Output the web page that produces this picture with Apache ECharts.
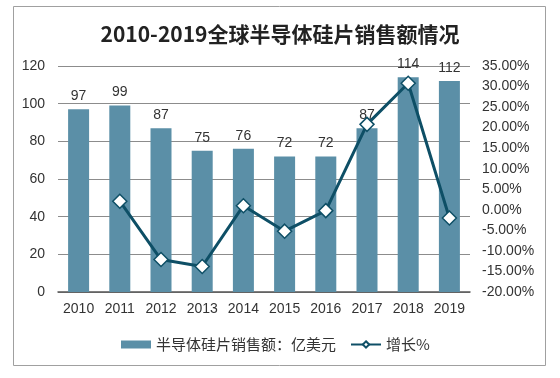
<!DOCTYPE html>
<html><head><meta charset="utf-8">
<script src="https://cdn.jsdelivr.net/npm/echarts@6/dist/echarts.min.js"></script>
<style>html,body{margin:0;padding:0;background:#fff}#c{width:560px;height:378px}</style>
</head><body><div id="c"></div>
<script>
const years = ['2010','2011','2012','2013','2014','2015','2016','2017','2018','2019'];
const sales = [97, 99, 87, 75, 76, 72, 72, 87, 114, 112];
const growth = [null, 2.1, -12.1, -13.8, 1.0, -5.2, -0.2, 20.8, 30.8, -2.0];
const leftTicks = [0, 20, 40, 60, 80, 100, 120];
const rightTicks = [-20, 35, 5];
const font = 'Liberation Sans, Arial, sans-serif';
const chart = echarts.init(document.getElementById('c'));
chart.setOption({
  backgroundColor: '#ffffff',
  animation: false,
  graphic: [{type:'rect', shape:{x:13.5,y:6.5,width:532,height:359}, style:{fill:'none', stroke:'#a0a0a0', lineWidth:1}, z:-1}],
  title: {text:'2010-2019全球半导体硅片销售额情况', left:'center', top:19,
    textStyle:{fontFamily:'Noto Sans CJK SC', fontWeight:'bold', fontSize:21, color:'#222'}},
  legend: {left:116, top:332, itemGap:14, textStyle:{fontFamily:'Noto Sans CJK SC', fontSize:15, color:'#333'},
    data:[{name:'半导体硅片销售额：亿美元', icon:'rect'}, {name:'增长%'}], itemWidth:30, itemHeight:8},
  grid: {left:58, right:90, top:66, bottom:86},
  xAxis: {type:'category', data:years, axisTick:{show:false},
    axisLine:{lineStyle:{color:'#555', width:1.5}},
    axisLabel:{fontFamily:font, fontSize:14, color:'#333', margin:10}},
  yAxis: [
    {type:'value', min:leftTicks[0], max:leftTicks[leftTicks.length-1], interval:20,
     axisLabel:{fontFamily:font, fontSize:14, color:'#333', margin:13},
     splitLine:{lineStyle:{color:'#8c8c8c'}}, axisLine:{show:false}, axisTick:{show:false}},
    {type:'value', min:rightTicks[0], max:rightTicks[1], interval:rightTicks[2],
     axisLabel:{fontFamily:font, fontSize:14, color:'#333', margin:12, formatter:v=>v.toFixed(2)+'%'},
     splitLine:{show:false}, axisLine:{show:false}, axisTick:{show:false}}
  ],
  series: [
    {name:'半导体硅片销售额：亿美元', type:'bar', data:sales, barWidth:21,
     itemStyle:{color:'#5b8fa7'},
     label:{show:true, position:'top', distance:6, fontFamily:font, fontSize:14, color:'#333'}},
    {name:'增长%', type:'line', yAxisIndex:1, data:growth, symbol:'diamond', symbolSize:14,
     lineStyle:{color:'#0e4f66', width:3}, itemStyle:{color:'#ffffff', borderColor:'#0e4f66', borderWidth:1.5},
     connectNulls:false}
  ]
});
</script></body></html>
